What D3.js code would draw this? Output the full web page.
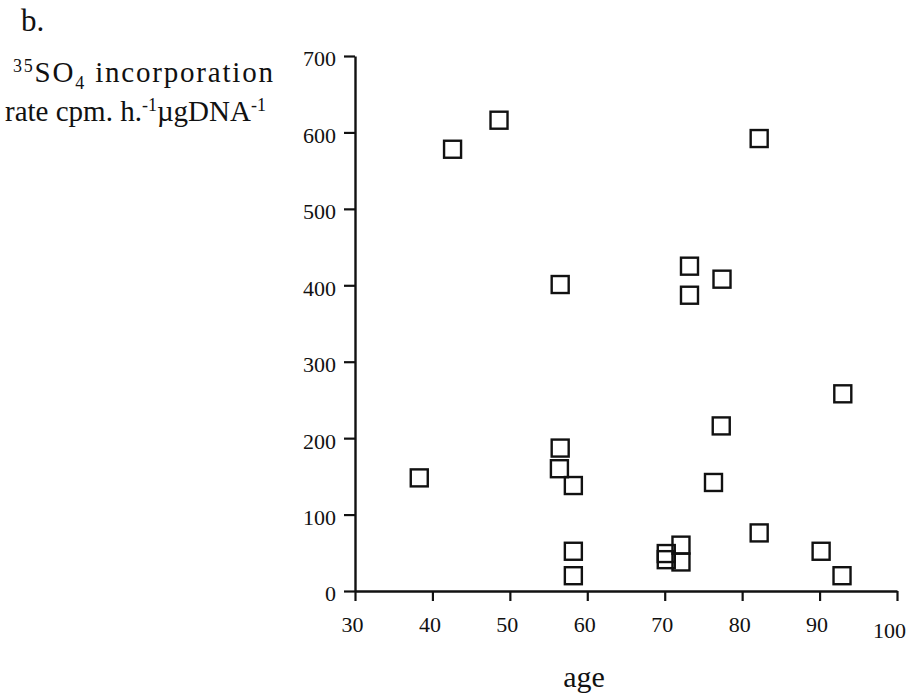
<!DOCTYPE html>
<html>
<head>
<meta charset="utf-8">
<script src="https://cdn.jsdelivr.net/npm/d3@7"></script>
<style>
body { margin: 0; background: #fff; }
svg { display: block; }
text { font-family: "Liberation Serif", "Times New Roman", serif; fill: #111; }
</style>
</head>
<body>
<svg width="909" height="695"></svg>
<script>
var svg = d3.select('svg');

// data
var ages = [42.6, 48.6, 82.2, 56.5, 73.2, 77.4, 73.2, 93.0, 77.3, 56.5, 38.3, 56.4,
            58.2, 76.3, 58.2, 58.2, 70.2, 70.2, 72.1, 72.1, 82.2, 90.2, 92.9];
var rates = [578, 616, 592, 401, 425, 408, 387, 258, 216, 187, 148, 160,
             138, 142, 52, 20, 49, 41, 60, 38, 76, 52, 20];
var xTicks = [30, 40, 50, 60, 70, 80, 90, 100];
var yTicks = [0, 100, 200, 300, 400, 500, 600, 700];

var points = [];
for (var i = 0; i < ages.length; i++) {
    points.push({age: ages[i], rate: rates[i]});
}

var x = d3.scaleLinear().domain([30, 100]).range([355, 897]);
var y = d3.scaleLinear().domain([0, 700]).range([591, 56]);

// y axis
var gy = svg.append('g')
    .attr('transform', 'translate(' + x(30) + ',0)')
    .call(d3.axisLeft(y).tickValues(yTicks).tickSize(11).tickSizeOuter(0).tickPadding(8));

// x axis
var gx = svg.append('g')
    .attr('transform', 'translate(0,' + y(0) + ')')
    .call(d3.axisBottom(x).tickValues(xTicks).tickSize(10).tickSizeOuter(0).tickPadding(14));

[gx, gy].forEach(function(g){
    g.select('.domain').attr('stroke', '#111').attr('stroke-width', 2.4);
    g.selectAll('.tick line').attr('stroke', '#111').attr('stroke-width', 2.2);
    g.selectAll('.tick text')
        .style('font-family', '"Liberation Serif", serif')
        .style('font-size', '22px')
        .attr('fill', '#111');
});
gx.selectAll('.tick text').attr('dx', function(d){ return d === 100 ? -8 : -3; })
    .attr('dy', function(d){ return d === 100 ? '1.05em' : '0.78em'; });
gy.selectAll('.tick text').attr('dy', '0.45em');

// square markers
svg.selectAll('rect.pt')
    .data(points)
    .enter()
    .append('rect')
    .attr('class', 'pt')
    .attr('x', function(d){ return x(d.age) - 8.5; })
    .attr('y', function(d){ return y(d.rate) - 8.5; })
    .attr('width', 17)
    .attr('height', 17)
    .attr('fill', 'none')
    .attr('stroke', '#111')
    .attr('stroke-width', 2.4);

// labels
svg.append('text').attr('x', 21).attr('y', 31).style('font-size', '31px').text('b.');

var t1 = svg.append('text').attr('x', 13).attr('y', 82).style('font-size', '29px')
    .style('letter-spacing', '1.8px');
t1.append('tspan').attr('dy', -10).style('font-size', '18px').text('35');
t1.append('tspan').attr('dy', 10).text('SO');
t1.append('tspan').attr('dy', 7).style('font-size', '18px').text('4');
t1.append('tspan').attr('dy', -7).text(' incorporation');

var t2 = svg.append('text').attr('x', 5).attr('y', 121).style('font-size', '29px');
t2.append('tspan').text('rate cpm. h.');
t2.append('tspan').attr('dy', -10).style('font-size', '18px').text('-1');
t2.append('tspan').attr('dy', 10).text('\u00b5gDNA');
t2.append('tspan').attr('dy', -10).style('font-size', '18px').text('-1');

svg.append('text')
    .attr('x', 584)
    .attr('y', 687)
    .attr('text-anchor', 'middle')
    .style('font-size', '30px')
    .text('age');
</script>
</body>
</html>
